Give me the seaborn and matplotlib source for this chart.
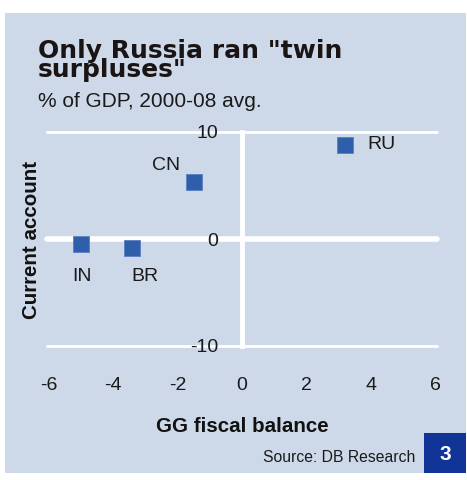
import matplotlib
matplotlib.use("Agg")
import matplotlib.pyplot as plt
import seaborn as sns
import pandas as pd
from matplotlib.patches import Rectangle

countries = ["CN", "IN", "BR", "RU"]
fiscal_balance = [-1.5, -5.0, -3.4, 3.2]
current_account = [5.3, -0.5, -0.8, 8.8]
x_ticks = [-6, -4, -2, 0, 2, 4, 6]
y_ticks = [-10, 0, 10]

title = 'Only Russia ran "twin\nsurpluses"'
subtitle = "% of GDP, 2000-08 avg."
x_label = "GG fiscal balance"
y_label = "Current account"
source = "Source: DB Research"
badge = "3"

# label offsets in points (style)
label_offsets = {"CN": (-20, 12, "center"), "IN": (1, -23, "center"),
                 "BR": (9, -21, "center"), "RU": (16, 0, "left")}

BG = "#cdd8e9"
MARK = "#2f5faa"
BADGE = "#113596"

sns.set_theme(style="white")
plt.rcParams["font.family"] = ["Liberation Sans", "DejaVu Sans"]

fig = plt.figure(figsize=(4.67, 4.80), dpi=100)
fig.patch.set_facecolor("white")
W, H = 467, 480
def fx(px): return px / W
def fy(py): return 1 - py / H

# background panel
fig.patches.append(Rectangle((fx(5), fy(473)), fx(466) - fx(5), fy(13) - fy(473),
                             transform=fig.transFigure, facecolor=BG, edgecolor="none", zorder=-2))
# badge
fig.patches.append(Rectangle((fx(424), fy(473)), fx(466) - fx(424), fy(433) - fy(473),
                             transform=fig.transFigure, facecolor=BADGE, edgecolor="none", zorder=-1))

ax = fig.add_axes([fx(47), fy(346), fx(437) - fx(47), fy(132) - fy(346)])
ax.set_facecolor("none")
ax.set_zorder(2)

df = pd.DataFrame({"fiscal": fiscal_balance, "ca": current_account, "country": countries})
sns.scatterplot(data=df, x="fiscal", y="ca", marker="s", s=125, color=MARK,
                edgecolor="#5a80c0", linewidth=0.6, ax=ax, zorder=5, legend=False)

for c, xv, yv in zip(countries, fiscal_balance, current_account):
    dx, dy, ha = label_offsets[c]
    ax.annotate(c, (xv, yv), xytext=(dx, dy), textcoords="offset points",
                ha=ha, va="center", fontsize=14, color="#1a1a1a")

ax.set_xlim(-6.05, 6.05)
ax.set_ylim(-10, 10)
ax.set_xticks(x_ticks)
ax.set_yticks(y_ticks)
ax.set_xticklabels([str(v) for v in x_ticks])
ax.set_yticklabels([str(v) for v in y_ticks])

for yv in y_ticks:
    ax.axhline(yv, color="white", lw=4 if yv == 0 else 2, zorder=1, clip_on=False)

for s in ["top", "right", "bottom"]:
    ax.spines[s].set_visible(False)
ax.spines["left"].set_position(("data", 0))
ax.spines["left"].set_color("white")
ax.spines["left"].set_linewidth(3.5)
ax.spines["left"].set_zorder(1.5)
ax.yaxis.set_zorder(4)
ax.xaxis.set_zorder(4)

ax.tick_params(axis="y", length=0, pad=17, labelsize=14, labelcolor="#1a1a1a")
ax.tick_params(axis="x", length=0, pad=22, labelsize=14, labelcolor="#1a1a1a")
ax.set_xlabel("")
ax.set_ylabel("")

fig.text(fx(242), fy(427), x_label, ha="center", va="center", fontsize=14.8, fontweight="bold", color="#111111")
fig.text(fx(32), fy(240), y_label, ha="center", va="center", rotation=90, fontsize=14.8, fontweight="bold", color="#111111")

fig.text(fx(38), fy(77), title, ha="left", va="baseline", fontsize=18, fontweight="bold",
         family=["DejaVu Sans"], linespacing=0.76, color="#1a1414")
fig.text(fx(38), fy(107), subtitle, ha="left", va="baseline", fontsize=15, color="#1a1a1a")

fig.text(fx(415), fy(457), source, ha="right", va="center", fontsize=11.3, color="#1a1a1a")
fig.text(fx(445), fy(454), badge, ha="center", va="center", fontsize=15, fontweight="bold", color="white")

fig.savefig("out.png", dpi=100, facecolor=fig.get_facecolor())
